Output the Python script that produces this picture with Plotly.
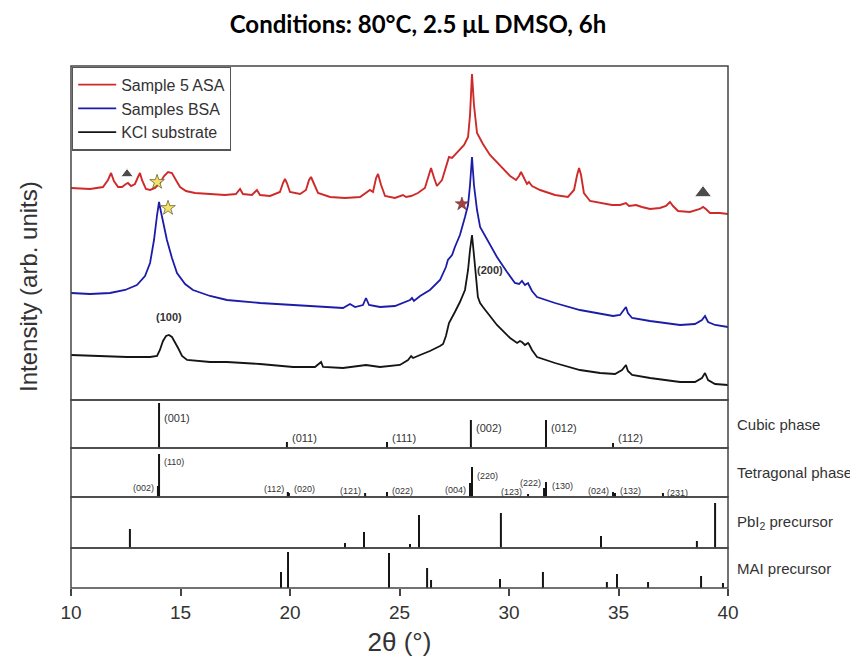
import plotly.graph_objects as go

# ---------------- data ----------------
two_theta_asa = [10.00, 10.87, 11.46, 11.69, 11.83, 11.96, 12.15, 12.33, 12.51, 12.60, 12.74, 12.92, 13.06, 13.15, 13.24, 13.42, 13.61, 13.84, 14.06, 14.25, 14.43, 14.61, 14.79, 14.98, 15.25, 15.66, 16.35, 17.03, 17.53, 17.72, 17.85, 18.26, 18.49, 18.63, 19.09, 19.54, 19.68, 19.77, 19.86, 20.00, 20.46, 20.73, 20.87, 20.96, 21.10, 21.28, 21.83, 22.51, 23.20, 23.47, 23.65, 23.79, 23.93, 24.02, 24.16, 24.34, 24.79, 25.16, 25.30, 25.53, 25.84, 26.16, 26.35, 26.44, 26.58, 26.71, 26.94, 27.12, 27.26, 27.40, 27.67, 27.95, 28.13, 28.22, 28.31, 28.40, 28.54, 28.81, 29.13, 29.59, 30.05, 30.32, 30.46, 30.55, 30.68, 30.82, 30.91, 31.05, 31.42, 32.10, 32.69, 32.97, 33.11, 33.20, 33.29, 33.42, 33.70, 34.16, 34.70, 35.07, 35.34, 35.48, 35.80, 36.07, 36.44, 36.89, 37.17, 37.35, 37.49, 37.72, 38.26, 38.72, 38.86, 38.99, 39.18, 39.63, 40.00]
int_asa = [212, 211, 213, 220, 227, 219, 213, 213, 216, 217, 214, 216, 223, 227, 220, 211, 210, 212, 217, 224, 228, 227, 220, 213, 209, 207, 206, 205, 206, 211, 206, 205, 210, 205, 204, 208, 217, 221, 217, 208, 206, 210, 220, 223, 216, 207, 203, 202, 203, 207, 210, 208, 222, 226, 215, 204, 202, 205, 203, 204, 207, 212, 224, 232, 222, 214, 220, 234, 243, 242, 248, 255, 263, 285, 326, 295, 267, 256, 245, 234, 224, 220, 224, 228, 222, 216, 218, 214, 210, 205, 203, 210, 225, 232, 225, 207, 199, 197, 195, 195, 197, 194, 195, 193, 191, 192, 194, 198, 194, 189, 188, 191, 193, 191, 187, 187, 186]

two_theta_bsa = [10.00, 10.87, 11.78, 12.47, 13.01, 13.38, 13.61, 13.79, 13.93, 14.02, 14.11, 14.25, 14.38, 14.61, 14.84, 15.21, 15.57, 16.35, 17.12, 18.63, 20.14, 21.37, 22.42, 22.74, 22.97, 23.33, 23.47, 23.61, 24.11, 24.79, 25.25, 25.48, 25.57, 25.66, 25.94, 26.39, 26.85, 27.12, 27.21, 27.40, 27.53, 27.76, 27.99, 28.13, 28.22, 28.31, 28.40, 28.54, 28.68, 29.13, 29.45, 29.91, 30.27, 30.46, 30.59, 30.73, 30.87, 30.91, 31.05, 31.28, 32.10, 33.24, 34.16, 34.75, 35.07, 35.25, 35.34, 35.43, 35.62, 36.44, 37.12, 37.81, 38.49, 38.81, 38.95, 39.09, 39.41, 40.00]
int_bsa = [107, 106, 107, 110, 115, 124, 137, 160, 185, 198, 188, 172, 160, 142, 127, 116, 110, 104, 100, 97, 95, 93, 92, 96, 93, 95, 102, 95, 93, 94, 98, 100, 102, 99, 104, 110, 120, 133, 140, 145, 153, 165, 183, 195, 215, 243, 215, 190, 173, 155, 143, 128, 117, 116, 119, 115, 117, 115, 109, 103, 97, 90, 86, 84, 85, 90, 93, 87, 82, 79, 77, 75, 76, 80, 84, 78, 75, 73]

two_theta_kcl = [10.00, 11.32, 12.56, 13.61, 13.93, 14.06, 14.20, 14.34, 14.47, 14.61, 14.75, 14.89, 15.07, 15.30, 16.35, 17.12, 18.63, 20.14, 21.14, 21.42, 21.51, 22.42, 23.47, 24.11, 25.02, 25.39, 25.53, 25.62, 25.94, 26.39, 26.85, 26.99, 27.12, 27.26, 27.53, 27.76, 27.99, 28.13, 28.22, 28.31, 28.40, 28.49, 28.58, 28.68, 28.81, 29.45, 30.05, 30.37, 30.50, 30.59, 30.73, 30.87, 30.91, 31.05, 31.28, 32.10, 33.24, 34.16, 34.84, 35.16, 35.34, 35.43, 35.62, 36.44, 37.12, 37.81, 38.49, 38.81, 38.95, 39.09, 39.41, 40.00]
int_kcl = [45, 44, 43, 43, 44, 50, 59, 64, 65, 63, 58, 52, 44, 40, 38, 38, 36, 33, 33, 38, 33, 32, 35, 33, 35, 40, 44, 42, 45, 49, 54, 56, 64, 77, 88, 98, 110, 130, 150, 165, 145, 120, 103, 97, 93, 75, 62, 57, 59, 58, 55, 57, 56, 50, 43, 37, 30, 27, 26, 30, 35, 29, 25, 22, 20, 18, 18, 22, 27, 20, 16, 15]

# markers on the spectra
triangle_x = [12.56, 38.86]
triangle_y = [226, 207]
yellow_star_x = [13.93, 14.43]
yellow_star_y = [218, 192]
red_star_x = [27.85]
red_star_y = [196]

# peak labels on KCl curve
kcl_label_text = ["(100)", "(200)"]
kcl_label_x = [14.47, 29.13]
kcl_label_y = [75, 122]

# reference patterns (position, relative intensity)
cubic_pos = [14.02, 19.86, 24.43, 28.26, 31.69, 34.75]
cubic_int = [45, 6, 6, 28, 28, 5]
cubic_hkl = ["(001)", "(011)", "(111)", "(002)", "(012)", "(112)"]

tetra_pos = [13.97, 14.02, 19.90, 19.95, 23.43, 24.43, 28.22, 28.31, 30.87, 31.60, 31.69, 34.75, 34.84, 37.03]
tetra_int = [11, 43, 5, 4, 4, 5, 14, 30, 3, 9, 15, 5, 4, 4]
tetra_hkl = ["(002)", "(110)", "(112)", "(020)", "(121)", "(022)", "(004)", "(220)", "(123)", "(222)", "(130)", "(024)", "(132)", "(231)"]

pbi2_pos = [12.69, 22.51, 23.38, 25.48, 25.89, 29.63, 34.20, 38.58, 39.41]
pbi2_int = [19, 5, 16, 4, 33, 35, 12, 7, 45]

mai_pos = [19.59, 19.91, 24.52, 26.26, 26.44, 29.59, 31.55, 34.47, 34.93, 36.35, 38.77, 39.77]
mai_int = [16, 36, 35, 20, 8, 9, 16, 6, 14, 6, 12, 5]

x_ticks = [10, 15, 20, 25, 30, 35, 40]

# ---------------- styles / layout ----------------
FONT = "Liberation Sans"
TXT = "#333333"
FRAME = "#444444"
RED = "#cf2a2a"
BLUE = "#1c1caa"
BLACK = "#151515"

# label placement (offset in 2theta, anchor, label height) — styling only
cubic_lab = [(0.15, "left", 30), (0.15, "left", 10), (0.15, "left", 10),
             (0.15, "left", 20), (0.15, "left", 20), (0.15, "left", 10)]
tetra_lab = [(-0.1, "right", 9), (0.15, "left", 35), (-0.1, "right", 8), (0.15, "left", 8),
             (-0.1, "right", 6), (0.15, "left", 6), (-0.1, "right", 7), (0.15, "left", 21),
             (-0.2, "right", 5), (-0.05, "right", 14), (0.2, "left", 11), (-0.1, "right", 6),
             (0.15, "left", 6), (0.1, "left", 4)]

# the page body margin offsets the figure inside the window
OFFX, OFFY = 8, 8
W, H = 858 - OFFX, 657 - OFFY
L, R = 71 - OFFX, W - (728 - OFFX)
T, B = 66 - OFFY, H - (588 - OFFY)
plot_h = H - T - B

def dom(top_ref, bot_ref):
    top, bot = top_ref - OFFY, bot_ref - OFFY
    return [(H - B - bot) / plot_h, (H - B - top) / plot_h]

fig = go.Figure()

fig.add_trace(go.Scatter(x=two_theta_asa, y=int_asa, mode="lines", name="Sample 5 ASA",
                         line=dict(color=RED, width=1.9), yaxis="y"))
fig.add_trace(go.Scatter(x=two_theta_bsa, y=int_bsa, mode="lines", name="Samples BSA",
                         line=dict(color=BLUE, width=1.8), yaxis="y"))
fig.add_trace(go.Scatter(x=two_theta_kcl, y=int_kcl, mode="lines", name="KCl substrate",
                         line=dict(color=BLACK, width=1.8), yaxis="y"))

fig.add_trace(go.Scatter(x=triangle_x, y=triangle_y, mode="markers", showlegend=False,
                         marker=dict(symbol="triangle-up", size=[11, 15], color="black"), yaxis="y"))
fig.add_trace(go.Scatter(x=yellow_star_x, y=yellow_star_y, mode="markers", showlegend=False,
                         marker=dict(symbol="star", size=11, color="#f3e36a",
                                     line=dict(color="#6b6530", width=0.8)), yaxis="y"))
fig.add_trace(go.Scatter(x=red_star_x, y=red_star_y, mode="markers", showlegend=False,
                         marker=dict(symbol="star", size=10, color="#a3423f",
                                     line=dict(color="#6a2a2a", width=0.6)), yaxis="y"))

def sticks(pos, inten, yax):
    xs, ys = [], []
    for p, h in zip(pos, inten):
        xs += [p, p, None]
        ys += [0, h, None]
    fig.add_trace(go.Scatter(x=xs, y=ys, mode="lines", showlegend=False,
                             line=dict(color=BLACK, width=2), yaxis=yax, hoverinfo="skip"))

sticks(cubic_pos, cubic_int, "y2")
sticks(tetra_pos, tetra_int, "y3")
sticks(pbi2_pos, pbi2_int, "y4")
sticks(mai_pos, mai_int, "y5")

annotations = []
for t, x, y in zip(kcl_label_text, kcl_label_x, kcl_label_y):
    annotations.append(dict(x=x, y=y, xref="x", yref="y", text="<b>%s</b>" % t, showarrow=False,
                            font=dict(family=FONT, size=11, color=TXT), yanchor="bottom"))
for p, t, (dx, anc, ly) in zip(cubic_pos, cubic_hkl, cubic_lab):
    annotations.append(dict(x=p + dx, y=ly, xref="x", yref="y2", text=t, showarrow=False,
                            xanchor=anc, yanchor="middle", font=dict(family=FONT, size=11, color=TXT)))
for p, t, (dx, anc, ly) in zip(tetra_pos, tetra_hkl, tetra_lab):
    annotations.append(dict(x=p + dx, y=ly, xref="x", yref="y3", text=t, showarrow=False,
                            xanchor=anc, yanchor="middle", font=dict(family=FONT, size=9, color=TXT)))

side = [("Cubic phase", "y2"), ("Tetragonal phase", "y3"),
        ("PbI<sub>2</sub> precursor", "y4"), ("MAI precursor", "y5")]
for txt, ax in side:
    annotations.append(dict(x=(735 - 71) / 657, y=0.5, xref="paper", yref=ax + " domain", text=txt,
                            showarrow=False, xanchor="left", yanchor="middle",
                            font=dict(family=FONT, size=15, color=TXT)))

annotations.append(dict(x=(28 - 71) / 657, y=(588 - 287) / 522, xref="paper", yref="paper",
                        text="Intensity (arb. units)", textangle=-90, showarrow=False,
                        xanchor="center", yanchor="middle",
                        font=dict(family=FONT, size=24, color=TXT)))

shapes = []
for ax in ["y", "y2", "y3", "y4", "y5"]:
    shapes.append(dict(type="rect", xref="x domain", yref=ax + " domain", x0=0, x1=1, y0=0, y1=1,
                       line=dict(color=FRAME, width=1.5)))

yax_common = dict(showticklabels=False, ticks="", showgrid=False, zeroline=False, showline=False,
                  fixedrange=True, automargin=False)

fig.update_layout(
    width=W, height=H,
    margin=dict(l=L, r=R, t=T, b=B),
    paper_bgcolor="white", plot_bgcolor="white",
    title=dict(text="<b>Conditions: 80°C, 2.5 μL DMSO, 6h</b>", x=(418 - OFFX) / W, xanchor="center",
               y=1 - (25 - OFFY) / H, yanchor="middle", font=dict(family="Lato", size=24, color="black")),
    xaxis=dict(range=[10, 40], anchor="y5", tickvals=x_ticks, ticks="outside", ticklen=7,
               tickwidth=1.5, tickcolor=FRAME, showgrid=False, zeroline=False, showline=False,
               automargin=False,
               tickfont=dict(family=FONT, size=19, color=TXT),
               title=dict(text="2θ (°)", font=dict(family=FONT, size=26, color=TXT), standoff=16)),
    yaxis=dict(domain=dom(66, 400), range=[0, 334], anchor="x", **yax_common),
    yaxis2=dict(domain=dom(400, 448), range=[0, 48], anchor="x", **yax_common),
    yaxis3=dict(domain=dom(448, 497), range=[0, 49], anchor="x", **yax_common),
    yaxis4=dict(domain=dom(497, 548), range=[0, 51], anchor="x", **yax_common),
    yaxis5=dict(domain=dom(548, 588), range=[0, 40], anchor="x", **yax_common),
    legend=dict(x=0.0015, y=0.999, xanchor="left", yanchor="top", xref="paper", yref="paper",
                bgcolor="white", bordercolor="#555555", borderwidth=1.2, itemwidth=38,
                font=dict(family=FONT, size=16, color=TXT), tracegroupgap=0),
    annotations=annotations,
    shapes=shapes,
    showlegend=True,
)

fig.write_html("out.html")
